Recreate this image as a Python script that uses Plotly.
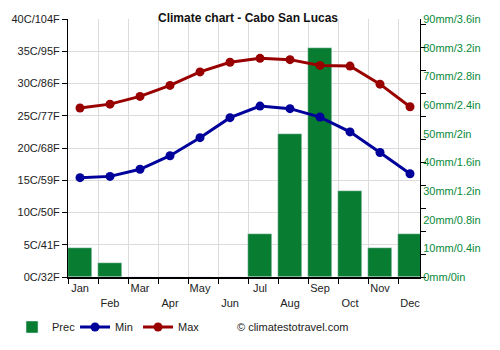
import plotly.graph_objects as go

months = ["Jan", "Feb", "Mar", "Apr", "May", "Jun", "Jul", "Aug", "Sep", "Oct", "Nov", "Dec"]
prec = [10, 5, 0, 0, 0, 0, 15, 50, 80, 30, 10, 15]
tmin = [15.4, 15.6, 16.7, 18.8, 21.6, 24.7, 26.5, 26.1, 24.8, 22.5, 19.3, 16.0]
tmax = [26.2, 26.8, 28.0, 29.7, 31.8, 33.3, 33.9, 33.7, 32.8, 32.7, 29.9, 26.4]

temp_ticks = list(range(0, 41, 5))
temp_labels = [f"{c}C/{round(c * 9 / 5 + 32)}F" for c in temp_ticks]
prec_ticks = list(range(0, 91, 10))
prec_labels = [f"{p}mm/{p * 0.04:.1f}in".replace(".0in", "in") for p in prec_ticks]

xpos = list(range(len(months)))
ticktext = [m if i % 2 == 0 else "<br>" + m for i, m in enumerate(months)]

GREEN = "#087c30"
BLUE = "#00009b"
RED = "#990000"
FONT = "Liberation Sans, Arial, sans-serif"

fig = go.Figure()
fig.add_trace(go.Bar(x=xpos, y=prec, name="Prec", marker_color=GREEN, width=0.8,
                     xaxis="x", yaxis="y"))
fig.add_trace(go.Scatter(x=xpos, y=tmin, name="Min", mode="lines+markers",
                         line=dict(color=BLUE, width=3), marker=dict(size=9, color=BLUE),
                         xaxis="x", yaxis="y2"))
fig.add_trace(go.Scatter(x=xpos, y=tmax, name="Max", mode="lines+markers",
                         line=dict(color=RED, width=3), marker=dict(size=9, color=RED),
                         xaxis="x", yaxis="y2"))

fig.update_layout(
    width=500, height=350,
    margin=dict(l=68, r=80, t=19, b=73, autoexpand=False),
    paper_bgcolor="white", plot_bgcolor="white",
    font=dict(family=FONT, size=11, color="#222"),
    title=dict(text="<b>Climate chart - Cabo San Lucas</b>", x=0.496, xanchor="center",
               y=0.95, yanchor="middle", font=dict(size=12, color="#111")),
    bargap=0,
    showlegend=True,
    legend=dict(orientation="h", x=-0.159, xanchor="left", y=-(327 - 277) / 258,
                yanchor="middle", font=dict(size=11, color="#222"), itemwidth=30,
                entrywidth=18, entrywidthmode="pixels", tracegroupgap=0,
                bgcolor="rgba(0,0,0,0)"),
    xaxis=dict(
        range=[-0.4, 11.333], tickvals=xpos, ticktext=ticktext, ticks="",
        showgrid=False, showline=True, linecolor="black", linewidth=2,
        tickfont=dict(size=11, color="#222"), fixedrange=True,
        minor=dict(tick0=-0.4, dtick=1, ticks="outside", ticklen=5, tickcolor="black",
                   showgrid=True, gridcolor="#dcdcdc", gridwidth=1),
    ),
    yaxis=dict(
        side="right", range=[0, 90], tickvals=prec_ticks, ticktext=prec_labels,
        ticks="", showgrid=False, showline=True, linecolor="black", linewidth=1,
        tickfont=dict(size=11, color="#0a8a3a"), zeroline=False, anchor="x",
        minor=dict(tick0=0, dtick=8, ticks="outside", ticklen=5, tickcolor="black",
                   showgrid=False),
    ),
    yaxis2=dict(
        overlaying="y", side="left", range=[0, 40], tickvals=temp_ticks, ticktext=temp_labels,
        ticks="outside", ticklen=5, tickcolor="black", showgrid=True, gridcolor="#dcdcdc",
        showline=True, linecolor="black", linewidth=1, zeroline=False,
        tickfont=dict(size=11, color="#222"), anchor="x",
    ),
    annotations=[dict(text="© climatestotravel.com", xref="paper", yref="paper",
                      x=(235 - 68) / 352, xanchor="left", y=-(327 - 277) / 258, yanchor="middle",
                      showarrow=False, font=dict(size=11, color="#222"))],
)

fig.write_html("out.html")
